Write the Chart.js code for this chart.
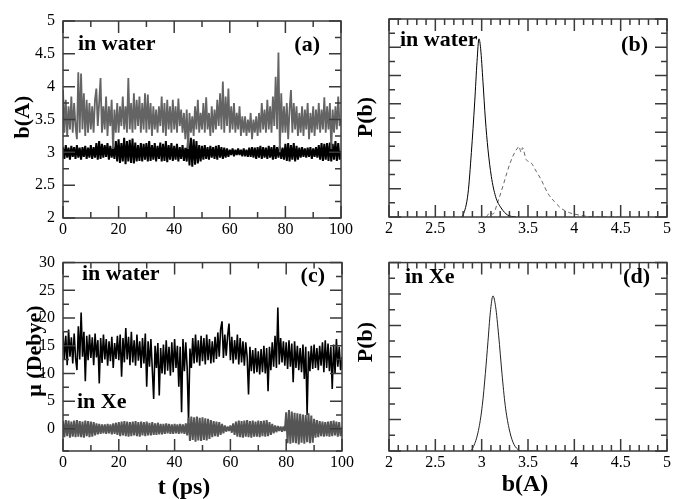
<!DOCTYPE html>
<html lang="en">
<head>
<meta charset="UTF-8" />
<title>Bond length and dipole fluctuations</title>
<script src="https://cdn.jsdelivr.net/npm/chart.js"></script>
<style>
  body { margin: 0; background: #fff; }
  #wrap { position: relative; width: 673px; height: 499px; overflow: hidden; background: #fff; }
  #wrap canvas { position: absolute; }
</style>
</head>
<body>
<div id="wrap">
  <canvas id="panelA" width="360" height="245" style="left:0;top:0"></canvas>
  <canvas id="panelB" width="323" height="245" style="left:350px;top:0"></canvas>
  <canvas id="panelC" width="360" height="254" style="left:0;top:245px"></canvas>
  <canvas id="panelD" width="323" height="254" style="left:350px;top:245px"></canvas>
</div>

<script>
  // sampling grid of the trajectories (ps)
  const sampleStep = 0.5;
  const times = Array.from({ length: 201 }, (_, i) => i * sampleStep);

  // (a) b(A) in water, grey trace
  const bWaterGrey = [
    3.95,3.3,3.8,3.25,3.7,3.35,3.85,3.3,3.75,3.4,
    3.2,4.22,3.3,4.2,3.35,3.9,3.25,3.8,3.3,3.75,
    3.35,3.7,3.3,3.8,3.97,3.4,3.75,4.13,3.3,3.7,
    3.35,3.85,3.25,3.7,3.4,3.8,3.05,3.65,3.3,3.75,
    3.3,3.7,3.4,3.85,3.35,3.7,3.3,4.13,3.35,3.75,
    3.3,3.9,3.35,3.8,3.4,3.85,3.3,3.75,3.35,3.9,
    3.3,3.88,3.35,3.75,3.25,3.7,3.35,3.65,3.3,3.7,
    3.4,3.85,3.3,3.75,3.25,3.8,3.35,3.7,3.3,3.8,
    3.35,3.7,3.3,3.82,3.4,3.65,3.3,3.6,3.2,3.65,
    3.05,3.6,3.3,3.55,3.25,3.7,3.35,3.8,3.3,3.6,
    3.35,3.75,3.3,3.84,3.35,3.6,3.25,3.7,3.3,3.65,
    3.35,3.8,3.4,3.9,3.35,4.08,3.3,3.85,3.4,3.97,
    3.3,3.7,3.35,3.75,3.3,3.6,3.35,3.7,3.25,3.55,
    3.3,3.55,3.25,3.5,3.3,3.6,3.2,3.5,3.3,3.55,
    3.25,3.6,3.3,3.75,3.35,3.65,3.3,3.8,3.35,3.7,
    3.3,3.85,3.4,4.15,3.35,4.52,3.0,3.9,3.3,3.7,
    3.3,3.75,3.2,3.65,3.95,3.3,3.75,3.35,3.7,3.25,
    3.6,3.3,3.7,3.25,3.65,3.35,3.75,3.2,3.6,3.3,
    3.7,3.25,3.65,3.35,3.75,3.3,3.65,3.35,3.84,3.3,
    3.7,3.35,3.75,3.05,3.65,3.3,3.7,3.35,3.85,3.4,
    3.5
  ];

  // (a) b(A) in water, black trace
  const bWaterBlack = [
    3.08,2.90,3.11,2.92,3.07,2.89,3.10,2.93,3.08,2.90,
    3.11,2.92,3.07,2.89,3.08,2.93,3.10,2.90,3.07,2.92,
    3.11,2.90,3.08,2.92,3.14,2.89,3.17,2.90,3.13,2.92,
    3.11,2.93,3.14,2.89,3.10,2.92,3.08,2.90,3.17,2.86,
    3.20,2.84,3.14,2.86,3.22,2.82,3.17,2.86,3.19,2.84,
    3.21,2.83,3.15,2.86,3.11,2.87,3.14,2.86,3.13,2.89,
    3.14,2.86,3.17,2.87,3.11,2.89,3.14,2.86,3.10,2.90,
    3.15,2.86,3.13,2.87,3.17,2.85,3.11,2.89,3.14,2.87,
    3.10,2.89,3.13,2.86,3.08,2.90,3.11,2.87,3.07,2.86,
    3.20,2.80,3.22,2.78,3.20,2.81,3.17,2.83,3.11,2.86,
    3.10,2.89,3.11,2.90,3.08,2.89,3.10,2.92,3.08,2.90,
    3.10,2.89,3.11,2.92,3.08,2.90,3.07,2.92,3.06,2.93,
    3.04,2.96,3.06,2.94,3.04,2.96,3.06,2.96,3.04,2.94,
    3.06,2.94,3.04,2.93,3.07,2.93,3.08,2.92,3.07,2.90,
    3.08,2.92,3.10,2.90,3.08,2.92,3.07,2.90,3.10,2.92,
    3.08,2.89,3.11,2.90,3.08,2.92,3.10,2.90,3.07,2.89,
    3.13,2.87,3.14,2.86,3.11,2.89,3.14,2.86,3.10,2.89,
    3.07,2.92,3.08,2.93,3.06,2.92,3.07,2.93,3.08,2.90,
    3.06,2.93,3.08,2.92,3.11,2.89,3.14,2.87,3.13,2.89,
    3.14,2.87,3.15,2.86,3.13,2.89,3.17,2.87,3.14,2.89,
    3.02
  ];

  // (c) dipole in water (Debye)
  const muWater = [
    17.5,12.5,16.8,11.5,17.9,13.0,16.5,11.8,17.2,12.8,
    10.6,18.5,12.5,21.0,13.0,17.5,8.6,16.8,12.4,17.0,
    12.8,16.5,11.5,17.2,12.9,16.0,8.2,16.4,11.9,17.0,
    12.5,16.2,11.4,15.8,12.2,16.6,11.0,15.5,12.6,16.8,
    12.4,17.0,9.4,16.4,12.0,18.2,12.5,16.6,11.5,17.5,
    12.0,16.0,11.4,17.0,12.3,15.8,11.0,16.4,11.8,17.2,
    7.6,15.8,11.2,16.2,10.8,5.4,15.0,11.0,15.5,6.0,
    14.6,10.0,15.2,9.8,16.0,10.5,14.8,9.6,15.6,10.2,
    16.2,11.0,15.0,7.6,14.8,3.0,16.2,10.4,15.6,11.0,
    1.4,14.5,11.0,16.4,11.8,17.0,12.0,16.0,11.4,16.8,
    12.2,16.4,11.6,17.0,12.4,16.2,11.8,15.8,12.0,16.6,
    12.6,17.4,13.0,18.0,19.4,12.8,17.0,13.2,16.8,19.0,
    12.4,16.6,11.8,16.0,12.5,17.0,11.6,16.4,12.0,15.8,
    11.4,15.6,13.0,6.2,14.8,10.4,14.2,10.0,14.6,10.2,
    14.0,9.8,14.4,10.2,15.0,10.0,14.6,6.8,14.8,10.6,
    15.6,11.2,16.8,11.0,21.9,11.6,16.4,12.0,15.8,11.4,
    15.6,10.8,16.0,11.2,15.4,8.4,15.8,11.0,15.0,10.6,
    14.6,10.2,15.2,9.0,14.8,2.5,14.0,10.4,15.0,10.8,
    15.2,11.0,14.6,10.6,15.0,11.4,15.6,10.2,16.0,11.0,
    15.4,10.4,14.8,7.2,15.2,10.0,16.2,11.2,14.8,10.6,
    13.0
  ];

  // (c) dipole in Xe (Debye)
  const muXe = [
    1.4,-1.5,1.6,-1.3,1.5,-1.6,1.3,-1.4,1.5,-1.5,
    1.6,-1.4,1.4,-1.5,1.3,-1.6,1.5,-1.3,1.4,-1.5,
    1.3,-1.4,1.2,-1.2,1.0,-1.0,0.9,-0.9,0.8,-0.8,
    0.8,-0.9,0.9,-0.8,0.8,-1.0,1.0,-0.9,1.1,-1.1,
    1.2,-1.3,1.3,-1.2,1.4,-1.3,1.3,-1.4,1.2,-1.3,
    1.3,-1.2,1.4,-1.3,1.2,-1.4,1.3,-1.2,1.2,-1.3,
    1.3,-1.2,1.1,-1.2,1.2,-1.1,1.0,-1.1,1.1,-1.0,
    0.9,-1.0,0.9,-0.9,1.0,-0.8,0.9,-0.9,0.8,-0.9,
    0.9,-0.8,0.8,-0.9,0.9,-0.8,0.8,-0.9,1.0,-1.2,
    2.0,-2.2,2.2,-2.0,2.1,-2.3,2.2,-2.1,2.0,-2.2,
    2.1,-2.0,1.9,-2.1,1.8,-1.8,1.6,-1.5,1.4,-1.3,
    1.3,-1.4,1.2,-1.1,0.9,-0.8,0.6,-0.5,0.4,-0.4,
    0.6,-0.7,1.0,-1.1,1.3,-1.4,1.5,-1.5,1.4,-1.6,
    1.5,-1.4,1.6,-1.5,1.4,-1.6,1.5,-1.4,1.3,-1.4,
    1.5,-1.5,1.4,-1.3,1.5,-1.4,1.6,-1.3,1.2,-1.1,
    0.9,-0.8,0.6,-0.6,0.5,-0.4,0.4,-0.5,0.4,-0.4,
    3.0,-2.6,3.4,-2.7,3.1,-2.5,2.9,-2.6,2.8,-2.8,
    2.7,-2.5,2.6,-2.7,2.5,-2.4,2.8,-2.6,2.4,-2.5,
    1.8,-1.6,1.6,-1.5,1.4,-1.3,1.3,-1.4,1.2,-1.3,
    1.3,-1.4,1.4,-1.3,1.5,-1.2,1.3,-1.4,1.2,-1.3,
    0.3
  ];

  // (b) distributions in water
  const bSolid = [2.78, 2.80, 2.853, 2.889, 2.925, 2.95, 2.971, 2.989, 3.014, 3.04, 3.068, 3.104, 3.15, 3.21, 3.28, 3.37];
  const pSolid = [0, 0.14, 1.69, 4.57, 8.14, 11.0, 12.6, 11.9, 9.57, 6.93, 4.79, 2.88, 1.45, 0.64, 0.14, 0];
  const bDashed = [3.05, 3.09, 3.12, 3.175, 3.229, 3.272, 3.308, 3.355, 3.39, 3.40, 3.427, 3.44, 3.48, 3.534, 3.588, 3.642, 3.713, 3.785, 3.857, 3.946, 4.05, 4.19, 4.34, 4.48];
  const pDashed = [0, 0.3, 0.2, 1.09, 2.17, 3.12, 3.83, 4.55, 4.9, 5.0, 4.57, 4.9, 4.07, 3.83, 3.24, 2.64, 1.69, 1.09, 0.62, 0.31, 0.14, 0.02, 0, 0];

  // (d) distribution in Xe
  const bXe = [2.85, 2.871, 2.925, 2.971, 3.007, 3.04, 3.068, 3.093, 3.122, 3.15, 3.183, 3.219, 3.254, 3.294, 3.337, 3.39, 3.444, 3.62];
  const pXe = [0, 0, 0.47, 1.48, 2.91, 4.94, 6.97, 8.8, 9.88, 9.21, 7.38, 4.94, 2.91, 1.48, 0.57, 0.1, 0, 0];

  Chart.defaults.font.family = '"Liberation Serif", "Times New Roman", serif';
  Chart.defaults.color = '#000';

  const SERIF = '"Liberation Serif", serif';
  const isMult = (v, m) => Math.abs(v / m - Math.round(v / m)) < 1e-6;

  // box frame plus xmgrace style inward ticks on all four sides
  const frameTicks = {
    id: 'frameTicks',
    afterDatasetsDraw(chart, args, opts) {
      const { ctx, chartArea: a, scales: { x, y } } = chart;
      ctx.save();
      ctx.strokeStyle = '#3a3a3a';
      ctx.lineWidth = 1.5;
      ctx.beginPath();
      x.ticks.forEach(t => {
        const px = x.getPixelForValue(t.value);
        const len = isMult(t.value, opts.xMajor) ? 12 : 6;
        ctx.moveTo(px, a.bottom); ctx.lineTo(px, a.bottom - len);
        ctx.moveTo(px, a.top); ctx.lineTo(px, a.top + len);
      });
      y.ticks.forEach(t => {
        const py = y.getPixelForValue(t.value);
        const len = isMult(t.value, opts.yMajor) ? 12 : 6;
        ctx.moveTo(a.left, py); ctx.lineTo(a.left + len, py);
        ctx.moveTo(a.right, py); ctx.lineTo(a.right - len, py);
      });
      ctx.stroke();
      ctx.strokeRect(a.left, a.top, a.right - a.left, a.bottom - a.top);
      ctx.restore();
    }
  };

  // panel tags and axis titles
  const panelText = {
    id: 'panelText',
    afterDraw(chart, args, opts) {
      const ctx = chart.ctx;
      (opts.items || []).forEach(it => {
        ctx.save();
        ctx.fillStyle = '#000';
        ctx.font = it.font;
        ctx.textAlign = it.align || 'left';
        ctx.textBaseline = it.baseline || 'alphabetic';
        ctx.translate(it.x, it.y);
        if (it.rotate) ctx.rotate(-Math.PI / 2);
        ctx.fillText(it.text, 0, 0);
        ctx.restore();
      });
    }
  };

  const series = (xs, ys) => xs.map((v, i) => ({ x: v, y: ys[i] }));

  function makePanel(id, p) {
    return new Chart(document.getElementById(id), {
      type: 'line',
      data: { datasets: p.datasets },
      options: {
        responsive: false,
        animation: false,
        layout: { padding: p.padding },
        elements: { point: { radius: 0 }, line: { borderJoinStyle: 'bevel' } },
        plugins: {
          legend: { display: false },
          tooltip: { enabled: false },
          frameTicks: { xMajor: p.x.major, yMajor: p.y.major },
          panelText: { items: p.texts }
        },
        scales: {
          x: {
            type: 'linear', min: p.x.min, max: p.x.max,
            afterFit: s => { s.height = p.xHeight; },
            grid: { display: false, drawTicks: false }, border: { display: false },
            ticks: {
              stepSize: p.x.step, autoSkip: false, maxRotation: 0, padding: 2,
              font: { size: 16 },
              callback: v => isMult(v, p.x.major) ? String(Math.round(v * 10) / 10) : ''
            }
          },
          y: {
            type: 'linear', min: p.y.min, max: p.y.max,
            afterFit: s => { s.width = p.yWidth; },
            grid: { display: false, drawTicks: false }, border: { display: false },
            ticks: {
              stepSize: p.y.step, autoSkip: false, padding: 8,
              font: { size: 16 },
              callback: v => (p.y.labels && isMult(v, p.y.major) && v >= p.y.labelFrom) ? String(v) : ''
            }
          }
        }
      },
      plugins: [frameTicks, panelText]
    });
  }

  const tagFont = 'bold 22px ' + SERIF;
  const titleFont = 'bold 22px ' + SERIF;
  const bottomTitleFont = 'bold 24px ' + SERIF;

  makePanel('panelA', {
    padding: { left: 0, top: 21, right: 19, bottom: 0 },
    yWidth: 63, xHeight: 27,
    x: { min: 0, max: 100, step: 10, major: 20 },
    y: { min: 2, max: 5, step: 0.25, major: 0.5, labels: true, labelFrom: 2 },
    datasets: [
      { data: series(times, bWaterGrey), borderColor: '#646464', borderWidth: 1.8 },
      { data: series(times, bWaterBlack), borderColor: '#000', borderWidth: 2 }
    ],
    texts: [
      { text: 'in water', x: 78, y: 50, font: tagFont },
      { text: '(a)', x: 320, y: 51, font: tagFont, align: 'right' },
      { text: 'b(A)', x: 23, y: 117, font: titleFont, align: 'center', baseline: 'middle', rotate: true }
    ]
  });

  makePanel('panelB', {
    padding: { left: 0, top: 19, right: 5, bottom: 0 },
    yWidth: 39, xHeight: 28,
    x: { min: 2, max: 5, step: 0.1, major: 0.5 },
    y: { min: 0, max: 14, step: 1, major: 2, labels: false },
    datasets: [
      { data: series(bSolid, pSolid), borderColor: '#000', borderWidth: 1, cubicInterpolationMode: 'monotone' },
      { data: series(bDashed, pDashed), borderColor: '#666', borderWidth: 1, borderDash: [4, 3], cubicInterpolationMode: 'monotone' }
    ],
    texts: [
      { text: 'in water', x: 50, y: 46, font: tagFont },
      { text: '(b)', x: 298, y: 51, font: tagFont, align: 'right' },
      { text: 'P(b)', x: 16, y: 117, font: titleFont, align: 'center', baseline: 'middle', rotate: true }
    ]
  });

  makePanel('panelC', {
    padding: { left: 0, top: 10, right: 18, bottom: 0 },
    yWidth: 63, xHeight: 48,
    x: { min: 0, max: 100, step: 10, major: 20 },
    y: { min: -4, max: 30, step: 2.5, major: 5, labels: true, labelFrom: 0 },
    datasets: [
      { data: series(times, muXe), borderColor: '#555', borderWidth: 2 },
      { data: series(times, muWater), borderColor: '#000', borderWidth: 1.6 }
    ],
    texts: [
      { text: 'in water', x: 82, y: 35, font: tagFont },
      { text: '(c)', x: 325, y: 37, font: tagFont, align: 'right' },
      { text: 'in Xe', x: 77, y: 163, font: tagFont },
      { text: 'μ (Debye)', x: 35, y: 106, font: titleFont, align: 'center', baseline: 'middle', rotate: true },
      { text: 't (ps)', x: 184, y: 249, font: bottomTitleFont, align: 'center' }
    ]
  });

  makePanel('panelD', {
    padding: { left: 0, top: 9, right: 5, bottom: 0 },
    yWidth: 39, xHeight: 48,
    x: { min: 2, max: 5, step: 0.1, major: 0.5 },
    y: { min: 0, max: 12, step: 1, major: 2, labels: false },
    datasets: [
      { data: series(bXe, pXe), borderColor: '#222', borderWidth: 1, cubicInterpolationMode: 'monotone' }
    ],
    texts: [
      { text: 'in Xe', x: 55, y: 38, font: tagFont },
      { text: '(d)', x: 300, y: 38, font: tagFont, align: 'right' },
      { text: 'P(b)', x: 16, y: 97, font: titleFont, align: 'center', baseline: 'middle', rotate: true },
      { text: 'b(A)', x: 175, y: 246, font: bottomTitleFont, align: 'center' }
    ]
  });
</script>
</body>
</html>
